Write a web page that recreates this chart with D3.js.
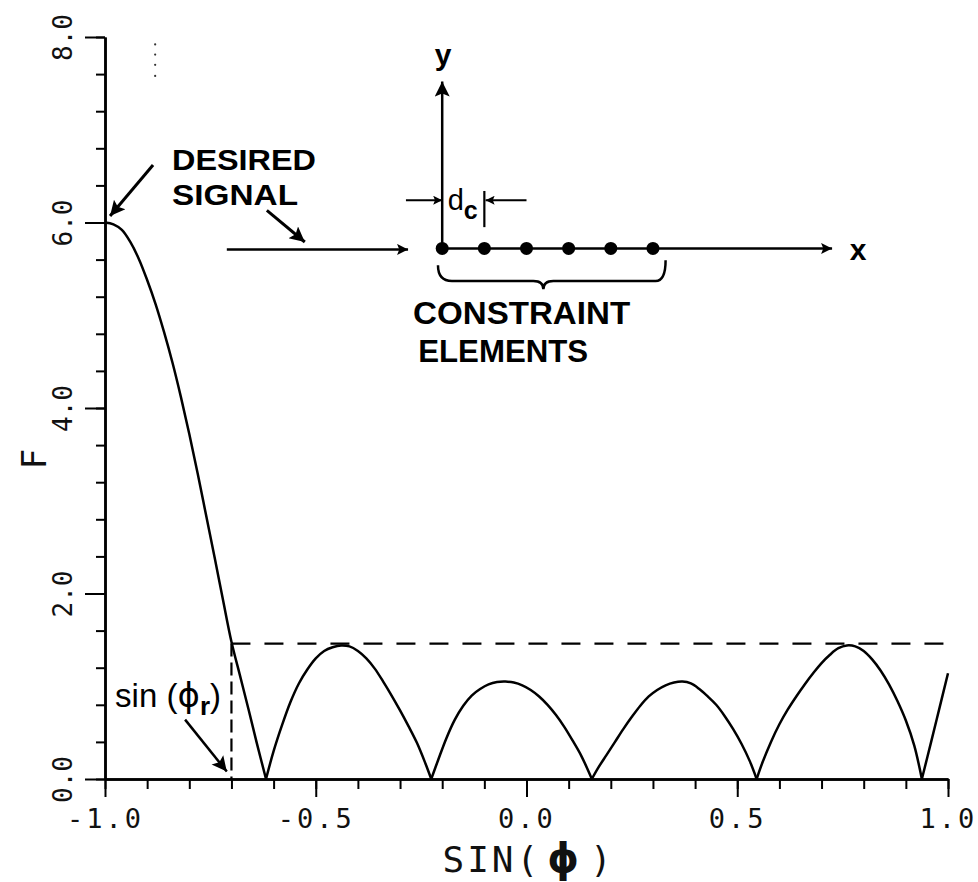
<!DOCTYPE html>
<html>
<head>
<meta charset="utf-8">
<script src="https://cdn.jsdelivr.net/npm/d3@7/dist/d3.min.js"></script>
<style>
  body { margin: 0; background: #fff; }
  svg { display: block; }
  .plot { font-family: "DejaVu Sans Mono", monospace; fill: #111; }
  .note { font-family: "Liberation Sans", Arial, sans-serif; font-weight: bold; fill: #000; }
</style>
</head>
<body>
<div id="chart"></div>
<script>
// ////////////////////////////////////////////////////////////////////////////
// DATA
// ////////////////////////////////////////////////////////////////////////////

// pattern F vs sin(phi); a value of 0 marks a null, the curve is split there
const sinPhi = [
  -1.00, -0.98, -0.96, -0.94, -0.92, -0.90, -0.88, -0.86, -0.84, -0.82,
  -0.80, -0.78, -0.76, -0.74, -0.72, -0.70, -0.68, -0.66, -0.64, -0.618,
  -0.60, -0.58, -0.56, -0.54, -0.52, -0.50, -0.48, -0.46, -0.44, -0.42,
  -0.40, -0.38, -0.36, -0.34, -0.32, -0.30, -0.28, -0.26, -0.24, -0.226,
  -0.21, -0.19, -0.17, -0.15, -0.13, -0.11, -0.09, -0.07, -0.05, -0.03,
  -0.01, 0.01, 0.03, 0.05, 0.07, 0.09, 0.11, 0.13, 0.155,
  0.17, 0.19, 0.21, 0.23, 0.25, 0.27, 0.29, 0.31, 0.33, 0.35,
  0.37, 0.39, 0.41, 0.43, 0.45, 0.47, 0.49, 0.51, 0.53, 0.546,
  0.56, 0.58, 0.60, 0.62, 0.64, 0.66, 0.68, 0.70, 0.72, 0.74,
  0.76, 0.78, 0.80, 0.82, 0.84, 0.86, 0.88, 0.90, 0.92, 0.938,
  0.96, 0.98, 1.00,
];
const F = [
  6.00, 5.98, 5.92, 5.79, 5.61, 5.38, 5.12, 4.82, 4.49, 4.12,
  3.72, 3.29, 2.84, 2.39, 1.93, 1.48, 1.12, 0.76, 0.39, 0,
  0.30, 0.58, 0.83, 1.03, 1.18, 1.30, 1.38, 1.42, 1.44, 1.43,
  1.38, 1.30, 1.19, 1.05, 0.90, 0.74, 0.57, 0.39, 0.17, 0,
  0.20, 0.44, 0.64, 0.79, 0.90, 0.97, 1.02, 1.045, 1.05, 1.04,
  1.01, 0.96, 0.89, 0.80, 0.69, 0.56, 0.41, 0.25, 0,
  0.12, 0.26, 0.40, 0.54, 0.67, 0.79, 0.89, 0.96, 1.01, 1.04,
  1.05, 1.03, 0.97, 0.89, 0.80, 0.68, 0.54, 0.38, 0.19, 0,
  0.18, 0.40, 0.59, 0.75, 0.89, 1.02, 1.14, 1.25, 1.34, 1.41,
  1.44, 1.43, 1.38, 1.29, 1.17, 1.02, 0.84, 0.63, 0.36, 0,
  0.40, 0.77, 1.14,
];

// sin(phi_r) and the sidelobe level it sets (dashed lines)
const sinPhiR = -0.70;
const levelR = 1.46;

const xMajor = [-1.0, -0.5, 0.0, 0.5, 1.0];
const xTickLabels = ['-1.0', '-0.5', '0.0', '0.5', '1.0'];
const xMinor = [-1.0, -0.9, -0.8, -0.7, -0.6, -0.5, -0.4, -0.3, -0.2, -0.1,
  0.0, 0.1, 0.2, 0.3, 0.4, 0.5, 0.6, 0.7, 0.8, 0.9, 1.0];
const yMajor = [0, 2, 4, 6, 8];
const yTickLabels = ['0.0', '2.0', '4.0', '6.0', '8.0'];
const yMinor = [0, 0.4, 0.8, 1.2, 1.6, 2.0, 2.4, 2.8, 3.2, 3.6, 4.0,
  4.4, 4.8, 5.2, 5.6, 6.0, 6.4, 6.8, 7.2, 7.6, 8.0];

// inset sketch: constraint element positions along its x axis
const elements = [-0.2, -0.1, 0.0, 0.1, 0.2, 0.3];

// ////////////////////////////////////////////////////////////////////////////
// SET UP
// ////////////////////////////////////////////////////////////////////////////
const width = 978;
const height = 882;

const x = d3.scaleLinear().domain([-1, 1]).range([105, 948]);
const y = d3.scaleLinear().domain([0, 8]).range([779, 37]);

const svg = d3.select('#chart').append('svg')
  .attr('width', width)
  .attr('height', height);

svg.append('rect').attr('width', width).attr('height', height).attr('fill', '#fff');

// arrowheads
const defs = svg.append('defs');
function marker(id, len, wid) {
  defs.append('marker')
    .attr('id', id)
    .attr('viewBox', '0 0 10 10')
    .attr('refX', 10)
    .attr('refY', 5)
    .attr('markerUnits', 'userSpaceOnUse')
    .attr('markerWidth', len)
    .attr('markerHeight', wid)
    .attr('orient', 'auto')
    .append('path')
      .attr('d', 'M0,0 L10,5 L0,10 L2,5 z')
      .attr('fill', '#000');
}
marker('big', 26, 15);
marker('med', 24, 11);
marker('small', 16, 9);

// ////////////////////////////////////////////////////////////////////////////
// AXES
// ////////////////////////////////////////////////////////////////////////////
const gx = svg.append('g').attr('class', 'plot').attr('transform', `translate(0,${y(0)})`);
gx.call(d3.axisBottom(x).tickValues(xMinor).tickSize(10).tickSizeOuter(0).tickFormat(''));
gx.append('g').call(d3.axisBottom(x).tickValues(xMajor).tickSize(18).tickSizeOuter(0)
  .tickFormat((d, i) => xTickLabels[i]));

const gy = svg.append('g').attr('class', 'plot').attr('transform', `translate(${x(-1)},0)`);
gy.call(d3.axisLeft(y).tickValues(yMinor).tickSize(9).tickSizeOuter(0).tickFormat(''));
gy.append('g').call(d3.axisLeft(y).tickValues(yMajor).tickSize(20).tickSizeOuter(0)
  .tickFormat((d, i) => yTickLabels[i]));

svg.selectAll('.plot .domain').attr('stroke', '#000').attr('stroke-width', 2.5);
svg.selectAll('.plot .tick line').attr('stroke', '#000').attr('stroke-width', 2);

gx.selectAll('.tick text')
  .attr('y', 49).attr('dy', 0)
  .attr('font-size', 27)
  .attr('font-family', '"DejaVu Sans Mono", monospace')
  .attr('letter-spacing', 3)
  .attr('fill', '#111');

gy.selectAll('.tick text')
  .attr('x', 0).attr('dy', '0.36em')
  .attr('text-anchor', 'middle')
  .attr('transform', 'translate(-42,0) rotate(-90)')
  .attr('font-size', 26)
  .attr('font-family', '"DejaVu Sans Mono", monospace')
  .attr('fill', '#111');

// axis titles
svg.append('text')
  .attr('class', 'plot')
  .attr('x', x(0.005)).attr('y', 872)
  .attr('text-anchor', 'middle')
  .attr('font-size', 36)
  .attr('letter-spacing', 3)
  .html('SIN(<tspan dx="6" font-family="DejaVu Sans, sans-serif" font-weight="bold" font-size="40">ϕ</tspan>'
    + '<tspan dx="8">)</tspan>');

svg.append('text')
  .attr('class', 'plot')
  .attr('transform', 'translate(34,459) rotate(-90)')
  .attr('text-anchor', 'middle')
  .attr('dy', '0.36em')
  .attr('font-size', 34)
  .text('F');

// ////////////////////////////////////////////////////////////////////////////
// CURVE
// ////////////////////////////////////////////////////////////////////////////
const pts = sinPhi.map((s, i) => ({ s, f: F[i] }));
const segs = [];
let cur = [];
pts.forEach((p) => {
  cur.push(p);
  if (p.f === 0 && cur.length > 1) {
    segs.push(cur);
    cur = [p];
  }
});
if (cur.length > 1) segs.push(cur);

const line = d3.line()
  .x(d => x(d.s))
  .y(d => y(d.f))
  .curve(d3.curveCatmullRom.alpha(0.5));

svg.append('g').selectAll('path.lobe')
  .data(segs)
  .enter()
  .append('path')
    .attr('class', 'lobe')
    .attr('d', line)
    .attr('fill', 'none')
    .attr('stroke', '#000')
    .attr('stroke-width', 2.5)
    .attr('stroke-linejoin', 'round');

// dashed sin(phi_r) marker and level
svg.append('line')
  .attr('x1', x(sinPhiR)).attr('x2', x(sinPhiR))
  .attr('y1', y(levelR)).attr('y2', y(0))
  .attr('stroke', '#000').attr('stroke-width', 2.2)
  .attr('stroke-dasharray', '13,6');
svg.append('line')
  .attr('x1', x(sinPhiR)).attr('x2', x(1))
  .attr('y1', y(levelR)).attr('y2', y(levelR))
  .attr('stroke', '#000').attr('stroke-width', 2.2)
  .attr('stroke-dasharray', '19,14');

// ////////////////////////////////////////////////////////////////////////////
// ANNOTATIONS (placed in chart coordinates)
// ////////////////////////////////////////////////////////////////////////////
function arrow(u1, f1, u2, f2, m, w) {
  svg.append('line')
    .attr('x1', x(u1)).attr('y1', y(f1))
    .attr('x2', x(u2)).attr('y2', y(f2))
    .attr('stroke', '#000').attr('stroke-width', w || 2.5)
    .attr('marker-end', `url(#${m})`);
}

// desired signal
svg.append('text').attr('class', 'note')
  .attr('x', x(-0.841)).attr('y', y(6.57))
  .attr('font-size', 30).attr('textLength', 144).attr('lengthAdjust', 'spacingAndGlyphs')
  .text('DESIRED');
svg.append('text').attr('class', 'note')
  .attr('x', x(-0.841)).attr('y', y(6.19))
  .attr('font-size', 30).attr('textLength', 126).attr('lengthAdjust', 'spacingAndGlyphs')
  .text('SIGNAL');
arrow(-0.886, 6.62, -0.988, 6.07, 'big', 3);
arrow(-0.616, 6.13, -0.526, 5.79, 'big', 3);
arrow(-0.711, 5.71, -0.281, 5.71, 'med', 2.5);

// faint dotted marks near top
svg.append('g').selectAll('circle.speck')
  .data([7.92, 7.81, 7.70, 7.58])
  .enter()
  .append('circle')
    .attr('class', 'speck')
    .attr('cx', x(-0.881)).attr('cy', d => y(d))
    .attr('r', 1.1)
    .attr('fill', '#333');

// inset: array axes
const fArr = 5.72;
arrow(-0.20, fArr, -0.20, 7.52, 'big', 2.5);
arrow(-0.20, fArr, 0.725, fArr, 'med', 2.5);
svg.append('text').attr('class', 'note')
  .attr('x', x(-0.198)).attr('y', y(7.70))
  .attr('text-anchor', 'middle')
  .attr('font-size', 30)
  .text('y');
svg.append('text').attr('class', 'note')
  .attr('x', x(0.767)).attr('y', y(5.60))
  .attr('font-size', 30)
  .text('x');

svg.append('g').selectAll('circle.elem')
  .data(elements)
  .enter()
  .append('circle')
    .attr('class', 'elem')
    .attr('cx', d => x(d)).attr('cy', y(fArr))
    .attr('r', 6.5)
    .attr('fill', '#000');

// d_c spacing
arrow(-0.286, 6.24, -0.20, 6.24, 'small', 2.2);
arrow(0.0, 6.24, -0.097, 6.24, 'small', 2.2);
svg.append('line')
  .attr('x1', x(-0.1)).attr('x2', x(-0.1))
  .attr('y1', y(6.34)).attr('y2', y(5.95))
  .attr('stroke', '#000').attr('stroke-width', 2.2);
svg.append('text')
  .attr('x', x(-0.187)).attr('y', y(6.13))
  .attr('font-family', '"Liberation Sans", Arial, sans-serif')
  .attr('font-size', 29)
  .html('d<tspan dy="9" font-size="25" font-weight="bold">c</tspan>');

// constraint elements brace
const bL = x(-0.21), bR = x(0.33), bM = x(0.04);
const bTop = y(5.54), bBot = y(5.37), bTip = y(5.28);
svg.append('path')
  .attr('d', `M${bL},${bTop} Q${bL},${bBot} ${bL + 14},${bBot} H${bM - 10} `
    + `Q${bM},${bBot} ${bM},${bTip} Q${bM},${bBot} ${bM + 10},${bBot} `
    + `H${bR - 10} Q${bR},${bBot} ${bR},${bTop - 5}`)
  .attr('fill', 'none')
  .attr('stroke', '#000')
  .attr('stroke-width', 2.5);

svg.append('text').attr('class', 'note')
  .attr('x', x(-0.269)).attr('y', y(4.91))
  .attr('font-size', 31).attr('textLength', 217).attr('lengthAdjust', 'spacingAndGlyphs')
  .text('CONSTRAINT');
svg.append('text').attr('class', 'note')
  .attr('x', x(-0.257)).attr('y', y(4.50))
  .attr('font-size', 31).attr('textLength', 170).attr('lengthAdjust', 'spacingAndGlyphs')
  .text('ELEMENTS');

// sin(phi_r) label
svg.append('text')
  .attr('x', x(-0.976)).attr('y', y(0.78))
  .attr('font-family', '"Liberation Sans", Arial, sans-serif')
  .attr('font-size', 33)
  .html('sin (<tspan font-family="DejaVu Sans, sans-serif" font-size="34">ϕ</tspan>'
    + '<tspan dy="8" font-size="26" font-weight="bold">r</tspan><tspan dy="-8">)</tspan>');
arrow(-0.810, 0.64, -0.711, 0.08, 'big', 2.5);
</script>
</body>
</html>
